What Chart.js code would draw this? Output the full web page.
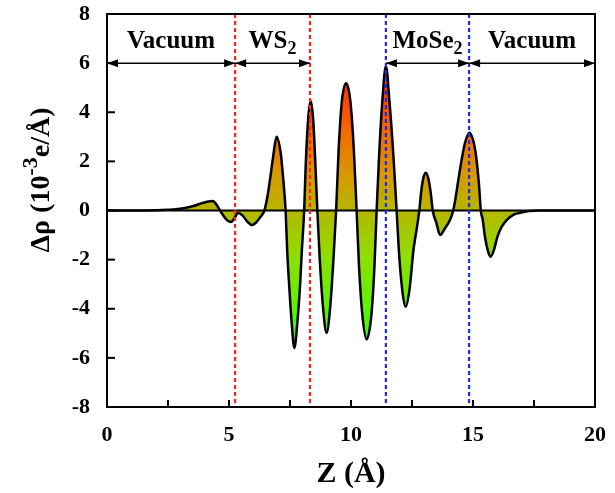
<!DOCTYPE html>
<html>
<head>
<meta charset="utf-8">
<script src="https://cdn.jsdelivr.net/npm/chart.js@4/dist/chart.umd.min.js"></script>
<style>
html,body{margin:0;padding:0;background:#fff;}
canvas{display:block;}
</style>
</head>
<body>
<canvas id="c" width="615" height="493"></canvas>
<script>
// ---- data ----
const zValues = [0,1,2,2.5,3,3.5,3.9,4.15,4.34,4.5,4.63,4.8,4.95,5.08,5.2,5.37,5.55,5.75,5.94,6.1,6.3,6.45,
  6.58,6.7,6.81,6.95,7.12,7.19,7.25,7.32,
  7.39,7.47,7.56,7.68,7.81,7.91,7.98,8.08,
  8.15,8.25,8.35,8.45,8.54,8.62,
  8.72,8.85,9.0,9.15,9.28,9.39,
  9.49,9.62,9.8,9.98,10.12,10.23,
  10.33,10.46,10.64,10.84,10.96,11.05,
  11.15,11.28,11.43,11.58,11.74,11.87,
  11.98,12.12,12.24,12.4,12.56,12.7,12.8,
  12.88,12.97,13.07,13.17,13.27,13.35,
  13.5,13.65,13.85,14.05,14.19,
  14.3,14.4,14.54,14.67,14.85,15.01,15.11,15.18,15.25,15.32,
  15.4,15.49,15.6,15.72,15.86,16.0,16.18,16.38,16.65,16.93,17.3,17.7,20];
const rhoValues = [0,0,0.01,0.03,0.07,0.17,0.3,0.37,0.39,0.22,0,-0.25,-0.42,-0.47,-0.35,-0.1,-0.2,-0.45,-0.59,-0.5,-0.25,0,
  0.6,1.4,2.2,3.0,2.33,1.65,0.97,0,
  -1.74,-3.1,-4.46,-5.6,-4.46,-3.1,-1.74,0,
  2.0,3.8,4.46,3.7,1.9,0,
  -2.0,-3.9,-4.99,-3.9,-2.0,0,
  2.4,4.4,5.18,4.4,2.4,0,
  -2.3,-4.2,-5.25,-4.2,-2.3,0,
  2.2,4.4,5.88,4.4,2.2,0,
  -1.9,-3.4,-3.92,-3.2,-1.6,-0.7,0,
  0.8,1.35,1.54,1.3,0.7,0,
  -0.5,-1.0,-0.73,-0.4,0,
  0.6,1.25,2.1,2.75,3.17,2.85,2.33,1.75,1.0,0,
  -0.39,-1.07,-1.6,-1.88,-1.6,-1.07,-0.66,-0.39,-0.18,-0.09,-0.02,0,0];
const xTicks = [0,5,10,15,20];
const xMinorTicks = [2.5,7.5,12.5,17.5];
const yTicks = [-8,-6,-4,-2,0,2,4,6,8];
const redLines = [5.25, 8.32];
const blueLines = [11.43, 14.84];
const regions = [
  {from:0, to:5.25, main:"Vacuum", sub:""},
  {from:5.25, to:8.32, main:"WS", sub:"2"},
  {from:11.43, to:14.84, main:"MoSe", sub:"2"},
  {from:14.84, to:20, main:"Vacuum", sub:""}
];
const arrowY = 6.0;
const labelY = 6.6;

const FONT = "'Liberation Serif', 'Times New Roman', serif";

function makeGradient(chart){
  const ys = chart.scales.y;
  const g = chart.ctx.createLinearGradient(0, ys.getPixelForValue(6), 0, ys.getPixelForValue(-6));
  g.addColorStop(0.0, '#ff1800');
  g.addColorStop(0.125, '#ff4400');
  g.addColorStop(0.25, '#f07000');
  g.addColorStop(0.375, '#d89800');
  g.addColorStop(0.5, '#b6b600');
  g.addColorStop(0.583, '#a2cc00');
  g.addColorStop(0.667, '#8ce000');
  g.addColorStop(0.833, '#5cf200');
  g.addColorStop(1.0, '#30ff00');
  return g;
}

const gradientPlugin = {
  id:'grad',
  beforeDatasetsDraw(chart){
    const meta = chart.getDatasetMeta(0);
    if(meta && meta.dataset) meta.dataset.options.backgroundColor = makeGradient(chart);
  }
};

const overlay = {
  id:'overlay',
  afterDatasetsDraw(chart){
    const c = chart.ctx, xs = chart.scales.x, ys = chart.scales.y, ca = chart.chartArea;
    c.save();
    c.strokeStyle = '#000'; c.lineWidth = 2; c.setLineDash([]);
    c.beginPath(); c.moveTo(ca.left, ys.getPixelForValue(0)); c.lineTo(ca.right, ys.getPixelForValue(0)); c.stroke();
    c.lineWidth = 2.2; c.setLineDash([4,3]);
    const vline = (v,col)=>{ c.strokeStyle=col; const x=xs.getPixelForValue(v); c.beginPath(); c.moveTo(x, ca.top); c.lineTo(x, ca.bottom); c.stroke(); };
    redLines.forEach(v=>vline(v,'#ff2020'));
    blueLines.forEach(v=>vline(v,'#1a2ee0'));
    c.setLineDash([]);
    c.strokeStyle='#000'; c.lineWidth=2;
    c.strokeRect(ca.left, ca.top, ca.right-ca.left, ca.bottom-ca.top);
    c.lineWidth = 2;
    xTicks.concat(xMinorTicks).forEach(v=>{ const x=xs.getPixelForValue(v); c.beginPath(); c.moveTo(x, ca.bottom); c.lineTo(x, ca.bottom-7); c.stroke(); });
    yTicks.forEach(v=>{ const y=ys.getPixelForValue(v); c.beginPath(); c.moveTo(ca.left, y); c.lineTo(ca.left+8, y); c.stroke(); });
    const ay = ys.getPixelForValue(arrowY);
    const head = (x,dir)=>{ c.beginPath(); c.moveTo(x, ay); c.lineTo(x-dir*11, ay-4); c.lineTo(x-dir*11, ay+4); c.closePath(); c.fill(); };
    c.fillStyle='#000'; c.lineWidth=1.5;
    regions.forEach(r=>{
      const x1=xs.getPixelForValue(r.from), x2=xs.getPixelForValue(r.to);
      c.beginPath(); c.moveTo(x1, ay); c.lineTo(x2, ay); c.stroke();
      head(x1,-1); head(x2,1);
      c.font = "bold 25px "+FONT;
      const wm = c.measureText(r.main).width;
      c.font = "bold 18px "+FONT;
      const wsub = r.sub ? c.measureText(r.sub).width : 0;
      const cx = (x1+x2)/2, ly = ys.getPixelForValue(labelY);
      let sx = cx - (wm+wsub)/2;
      c.textAlign='left'; c.textBaseline='alphabetic';
      c.font = "bold 25px "+FONT; c.fillText(r.main, sx, ly);
      if(r.sub){ c.font = "bold 18px "+FONT; c.fillText(r.sub, sx+wm, ly+6); }
    });
    c.save();
    c.translate(49, 180); c.rotate(-Math.PI/2);
    const p1 = "\u0394\u03c1 (10", p2 = "-3", p3 = "e/\u00c5)";
    c.font = "bold 28px "+FONT; const w1 = c.measureText(p1).width, w3 = c.measureText(p3).width;
    c.font = "bold 22px "+FONT; const w2 = c.measureText(p2).width;
    let tx = -(w1+w2+w3)/2;
    c.textAlign='left'; c.textBaseline='alphabetic';
    c.font = "bold 28px "+FONT; c.fillText(p1, tx, 0);
    c.font = "bold 22px "+FONT; c.fillText(p2, tx+w1, -12);
    c.font = "bold 28px "+FONT; c.fillText(p3, tx+w1+w2, 0);
    c.restore();
    c.font = "bold 30px "+FONT; c.textAlign='center'; c.textBaseline='alphabetic';
    c.fillText("Z (\u00c5)", (ca.left+ca.right)/2, 482);
    c.restore();
  }
};

new Chart(document.getElementById('c'), {
  type:'line',
  data:{ datasets:[{
    data: zValues.map((z,i)=>({x:z, y:rhoValues[i]})),
    borderColor:'#000', borderWidth:2.5, pointRadius:0,
    cubicInterpolationMode:'monotone',
    fill:'origin', backgroundColor:'#b4b800'
  }]},
  options:{
    responsive:false, animation:false, devicePixelRatio:1,
    layout:{ padding:{left:0, right:20, top:14, bottom:0} },
    plugins:{ legend:{display:false}, tooltip:{enabled:false} },
    scales:{
      x:{ type:'linear', min:0, max:20,
          afterBuildTicks(s){ s.ticks = xTicks.map(v=>({value:v})); },
          afterFit(s){ s.height = 86; s.paddingLeft = 0; s.paddingRight = 0; s.paddingTop = 0; s.paddingBottom = 0; },
          grid:{ display:false, drawTicks:false }, border:{display:false},
          ticks:{ color:'#000', padding:15, maxRotation:0, font:{family:FONT, size:22, weight:'bold'} } },
      y:{ min:-8, max:8,
          afterBuildTicks(s){ s.ticks = yTicks.map(v=>({value:v})); },
          afterFit(s){ s.width = 107; s.paddingTop = 0; s.paddingBottom = 0; s.paddingLeft = 0; s.paddingRight = 0; },
          grid:{ display:false, drawTicks:false }, border:{display:false},
          ticks:{ color:'#000', padding:17, font:{family:FONT, size:22, weight:'bold'} } }
    }
  },
  plugins:[gradientPlugin, overlay]
});
</script>
</body>
</html>
